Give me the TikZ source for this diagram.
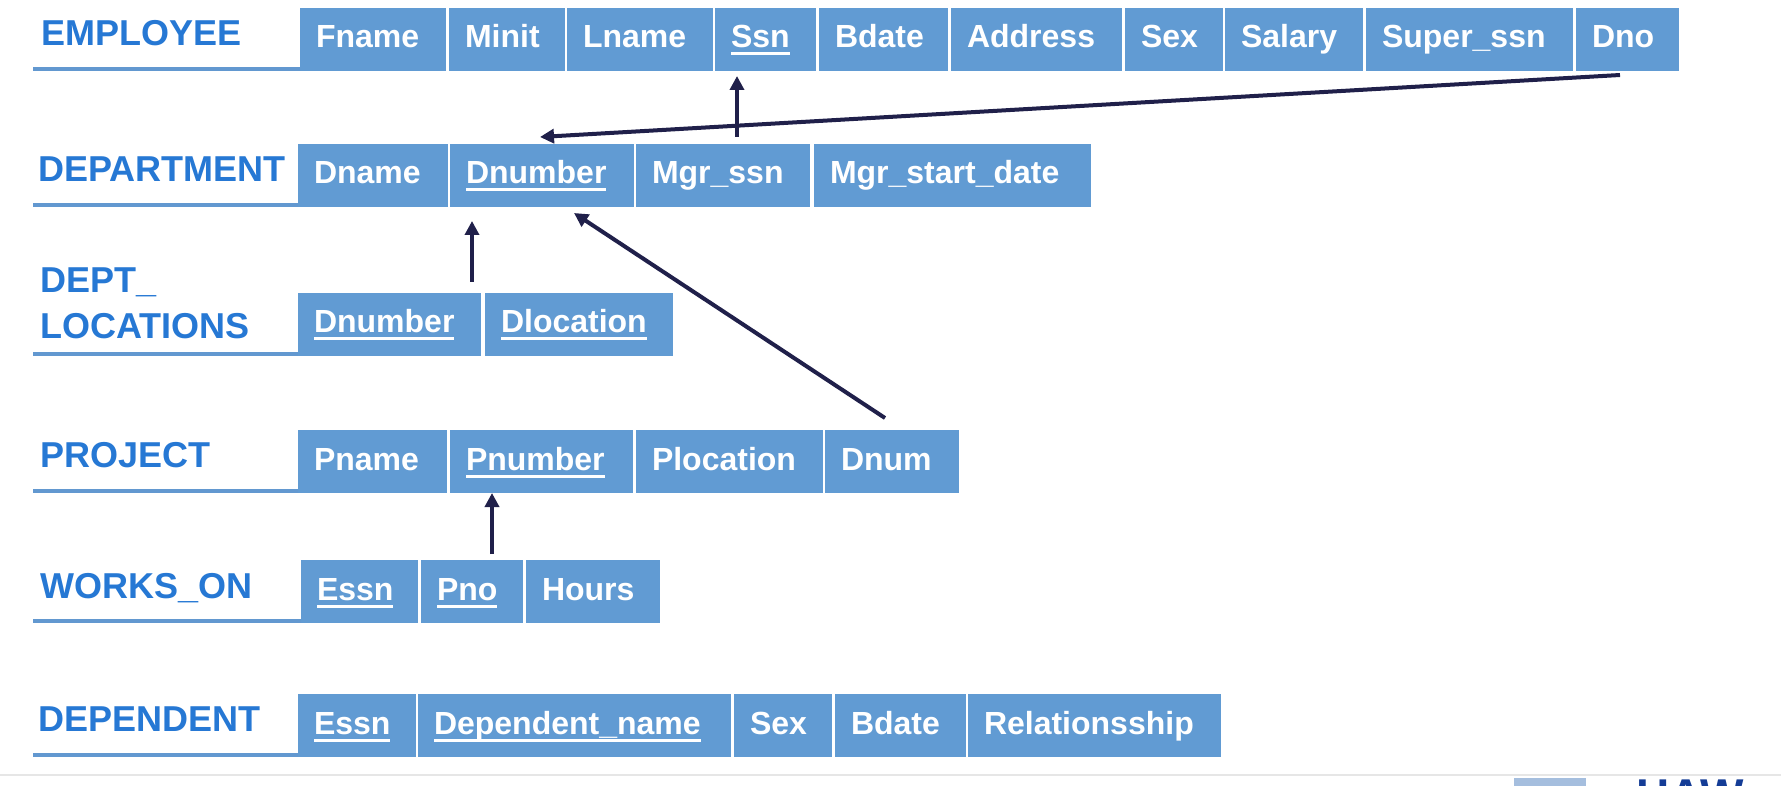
\documentclass[tikz,border=0pt]{standalone}
\usepackage{fontspec}
\setmainfont{Liberation Sans}
\usetikzlibrary{arrows.meta,calc}
\definecolor{cellblue}{RGB}{97,155,211}
\definecolor{labelblue}{RGB}{38,120,212}
\definecolor{rulecol}{RGB}{98,152,208}
\definecolor{arrowcol}{RGB}{32,32,74}
\definecolor{sepgray}{RGB}{230,230,230}
\definecolor{barblue}{RGB}{165,190,222}
\definecolor{hawblue}{RGB}{20,60,150}
\newcommand\keyul[1]{\setbox0\hbox{#1}\rlap{\rule[-7.5pt]{\wd0}{3pt}}\box0}
\newcommand\cellbox[5]{\pgfmathsetmacro\cw{#3-#2-32}\node[cell,text width=\cw pt] (#1) at (#2,#4) {#5};}
\begin{document}
\begin{tikzpicture}[x=1pt,y=-1pt,
 cell/.style={fill=cellblue, text=white, anchor=north west, inner xsep=16pt, inner ysep=15pt,
   text height=25pt, text depth=8pt, align=left, outer sep=0pt,
   font=\fontsize{32}{38}\selectfont\bfseries},
 tlabel/.style={anchor=base west, inner sep=0pt, text=labelblue,
   font=\fontsize{36}{43}\selectfont\bfseries},
 labelrule/.style={draw=rulecol, line width=4pt},
 fk/.style={draw=arrowcol, line width=4pt, -{Triangle[length=14pt,width=14pt]}}]
\useasboundingbox (0,0) rectangle (1781,786);
\fill[white] (0,0) rectangle (1781,786);

% ---------- labels ----------
\node[tlabel] (l-emp)  at (41,46)  {EMPLOYEE};
\node[tlabel] (l-dept) at (38,182) {DEPARTMENT};
\node[tlabel] (l-dl1)  at (40,293) {DEPT\_};
\node[tlabel] (l-dl2)  at (40,338) {LOCATIONS};
\node[tlabel] (l-proj) at (40,467) {PROJECT};
\node[tlabel] (l-wo)   at (40,598) {WORKS\_ON};
\node[tlabel] (l-dep)  at (38,731) {DEPENDENT};

% ---------- EMPLOYEE ----------
\cellbox{e-fname}{300}{446}{8}{Fname}
\cellbox{e-minit}{449}{565}{8}{Minit}
\cellbox{e-lname}{567}{713}{8}{Lname}
\cellbox{e-ssn}{715}{816}{8}{\keyul{Ssn}}
\cellbox{e-bdate}{819}{948}{8}{Bdate}
\cellbox{e-addr}{951}{1122}{8}{Address}
\cellbox{e-sex}{1125}{1223}{8}{Sex}
\cellbox{e-sal}{1225}{1363}{8}{Salary}
\cellbox{e-super}{1366}{1573}{8}{Super\_ssn}
\cellbox{e-dno}{1576}{1679}{8}{Dno}

% ---------- DEPARTMENT ----------
\cellbox{d-dname}{298}{448}{144}{Dname}
\cellbox{d-dnumber}{450}{634}{144}{\keyul{Dnumber}}
\cellbox{d-mgr}{636}{810}{144}{Mgr\_ssn}
\cellbox{d-mgrdate}{814}{1091}{144}{Mgr\_start\_date}

% ---------- DEPT_LOCATIONS ----------
\cellbox{l-dnumber}{298}{481}{293}{\keyul{Dnumber}}
\cellbox{l-dloc}{485}{673}{293}{\keyul{Dlocation}}

% ---------- PROJECT ----------
\cellbox{p-pname}{298}{447}{430}{Pname}
\cellbox{p-pnumber}{450}{633}{430}{\keyul{Pnumber}}
\cellbox{p-ploc}{636}{823}{430}{Plocation}
\cellbox{p-dnum}{825}{959}{430}{Dnum}

% ---------- WORKS_ON ----------
\cellbox{w-essn}{301}{418}{560}{\keyul{Essn}}
\cellbox{w-pno}{421}{523}{560}{\keyul{Pno}}
\cellbox{w-hours}{526}{660}{560}{Hours}

% ---------- DEPENDENT ----------
\cellbox{t-essn}{298}{416}{694}{\keyul{Essn}}
\cellbox{t-dname}{418}{731}{694}{\keyul{Dependent\_name}}
\cellbox{t-sex}{734}{832}{694}{Sex}
\cellbox{t-bdate}{835}{966}{694}{Bdate}
\cellbox{t-rel}{968}{1221}{694}{Relationsship}

% ---------- label rules ----------
\foreach \c in {e-fname, d-dname, l-dnumber, p-pname, w-essn, t-essn}{
  \draw[labelrule] ($(\c.south west)+(0,-2)$) coordinate (tmp) -- (33,0 |- tmp);
}

% ---------- foreign keys ----------
\draw[fk] ($(e-dno.south)+(-7.5,4)$) -- ($(d-dnumber.north)+(-2,-7)$);
\draw[fk] ($(d-mgr.north)+(14,-7)$) -- ($(d-mgr.north |- e-ssn.south)+(14,5)$);
\draw[fk] ($(l-dnumber.north)+(82.5,-11)$) -- ($(l-dnumber.north |- d-dnumber.south)+(82.5,14)$);
\draw[fk] ($(p-dnum.north)+(-7,-12)$) -- ($(d-dnumber.south)+(32,6)$);
\draw[fk] ($(w-pno.north)+(20,-6)$) -- ($(w-pno.north |- p-pnumber.south)+(20,0)$);

% ---------- footer ----------
\draw[sepgray, line width=2pt] (0,775) -- (1781,775);
\fill[barblue] (1514,778) rectangle (1586,792);
\node[anchor=base west, inner sep=0pt, text=hawblue,
      font=\fontsize{46}{50}\selectfont\bfseries] (haw) at (1636,811) {HAW};
\end{tikzpicture}
\end{document}
